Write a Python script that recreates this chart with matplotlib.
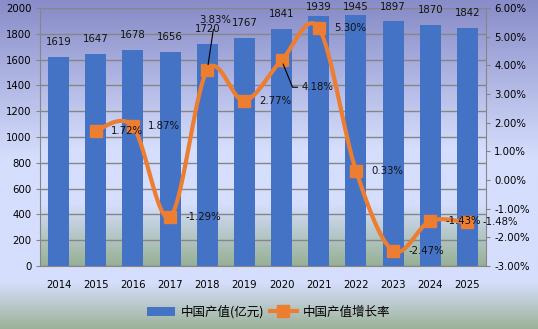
import numpy as np
import matplotlib
matplotlib.use("Agg")
import matplotlib.pyplot as plt
from matplotlib.patches import Patch
from matplotlib.lines import Line2D
from matplotlib.ticker import FuncFormatter, MultipleLocator

plt.rcParams['font.family'] = ['DejaVu Sans', 'Noto Sans CJK SC']

years = ['2014', '2015', '2016', '2017', '2018', '2019', '2020',
         '2021', '2022', '2023', '2024', '2025']
output = [1619, 1647, 1678, 1656, 1720, 1767, 1841, 1939, 1945, 1897, 1870, 1842]
# growth rate (%) starts from 2015
growth = [1.72, 1.87, -1.29, 3.83, 2.77, 4.18, 5.30, 0.33, -2.47, -1.43, -1.48]

BLUE = '#4472C4'
ORANGE = '#ED7D31'
GRID = '#868686'

def vgrad(stops, n=300):
    pos = np.linspace(0, 1, n)
    p = [s[0] for s in stops]
    cols = np.array([s[1] for s in stops], dtype=float) / 255.0
    img = np.zeros((n, 1, 3))
    for k in range(3):
        img[:, 0, k] = np.interp(pos, p, cols[:, k])
    return img

def smooth(xs, ys, steps=30):
    # bezier segments with catmull-rom style control points
    pts = np.column_stack([xs, ys]).astype(float)
    out = [pts[0]]
    n = len(pts)
    for i in range(n - 1):
        p0 = pts[i - 1] if i > 0 else pts[i]
        p1 = pts[i]
        p2 = pts[i + 1]
        p3 = pts[i + 2] if i + 2 < n else pts[i + 1]
        c1 = p1 + (p2 - p0) / 6.0
        c2 = p2 - (p3 - p1) / 6.0
        t = np.linspace(0, 1, steps)[1:, None]
        seg = ((1 - t) ** 3) * p1 + 3 * ((1 - t) ** 2) * t * c1 \
            + 3 * (1 - t) * t ** 2 * c2 + t ** 3 * p2
        out.extend(seg)
    out = np.array(out)
    return out[:, 0], out[:, 1]

fig = plt.figure(figsize=(5.38, 3.29), dpi=100)

bg = fig.add_axes([0, 0, 1, 1], zorder=-10)
bg.imshow(vgrad([(0, (136, 140, 200)), (0.48, (213, 222, 252)),
                 (0.86, (213, 222, 252)), (1.0, (156, 178, 152))]),
          aspect='auto', extent=[0, 1, 0, 1])
bg.axis('off')

ax = fig.add_axes([40 / 538, 1 - 266 / 329, 446 / 538, 258 / 329])
ax.patch.set_visible(False)
x = np.arange(len(years))

ax.imshow(vgrad([(0, (137, 141, 200)), (0.55, (213, 222, 252)),
                 (0.76, (213, 222, 252)), (1.0, (150, 176, 148))]),
          aspect='auto', extent=[-0.5, 11.5, 0, 2000], zorder=0)

bars = ax.bar(x, output, width=0.565, color=BLUE, zorder=2)

ax.set_xlim(-0.5, 11.5)
ax.set_ylim(0, 2000)

# value labels ~15px above each bar, kept inside the top of the plot area
px = 2000 / 258.0
for xi, v in zip(x, output):
    ax.text(xi, min(v + 15 * px, 2000 + 1 * px), str(v), ha='center',
            va='center', fontsize=7.3, color='#111111', zorder=5)

ax.yaxis.set_major_locator(MultipleLocator(200))
ax.set_xticks(x)
ax.set_xticklabels(years)
ax.grid(axis='y', color=GRID, lw=1, zorder=1)
ax.set_axisbelow(True)
ax.tick_params(axis='x', length=0, pad=10, labelsize=7.3)
ax.tick_params(axis='y', length=3, pad=3, color=GRID, labelsize=7.3)
for s in ['top', 'right']:
    ax.spines[s].set_visible(False)
for s in ['left', 'bottom']:
    ax.spines[s].set_color(GRID)

ax2 = ax.twinx()
ax2.patch.set_visible(False)
gx = x[1:]
sx, sy = smooth(gx, growth)
ax2.plot(sx, sy, color=ORANGE, lw=3, solid_capstyle='round', zorder=3)
ax2.plot(gx, growth, 's', color=ORANGE, ms=8, zorder=4)
ax2.set_ylim(-3, 6)
ax2.yaxis.set_major_locator(MultipleLocator(1))
ax2.yaxis.set_major_formatter(FuncFormatter(lambda v, p: f'{v:.2f}%'))
ax2.tick_params(axis='y', length=3, pad=3, color=GRID, labelsize=7.3)
for s in ['top', 'left', 'bottom']:
    ax2.spines[s].set_visible(False)
ax2.spines['right'].set_color(GRID)

lbl = dict(fontsize=7.3, color='#111111', textcoords='offset points', zorder=5)
for xi, g in zip(gx, growth):
    txt = f'{g:.2f}%'
    if g == 3.83:
        ax2.annotate(txt, (xi, g), xytext=(6, 36), ha='center', va='center',
                     arrowprops=dict(arrowstyle='-', color='black', lw=0.8,
                                     shrinkA=1, shrinkB=4, relpos=(0.45, 0)),
                     **lbl)
    elif g == 4.18:
        ax2.annotate(txt, (xi, g), xytext=(14.5, -19.5), ha='left', va='center',
                     arrowprops=dict(arrowstyle='-', color='black', lw=0.8,
                                     shrinkA=1, shrinkB=3, relpos=(0, 0.5),
                                     connectionstyle='angle,angleA=0,angleB=112,rad=0'),
                     **lbl)
    else:
        ax2.annotate(txt, (xi, g), xytext=(11, 0), ha='left', va='center', **lbl)

handles = [Patch(facecolor=BLUE),
           Line2D([], [], color=ORANGE, lw=3, marker='s', ms=8)]
fig.legend(handles, ['中国产值(亿元)', '中国产值增长率'], loc='center',
           bbox_to_anchor=(0.5, 1 - 312 / 329), ncol=2, frameon=False,
           prop={'family': ['Noto Sans CJK SC'], 'size': 9},
           handlelength=2.2, handleheight=0.7, handletextpad=0.5,
           columnspacing=0.4)

fig.savefig('out.png', dpi=100)
